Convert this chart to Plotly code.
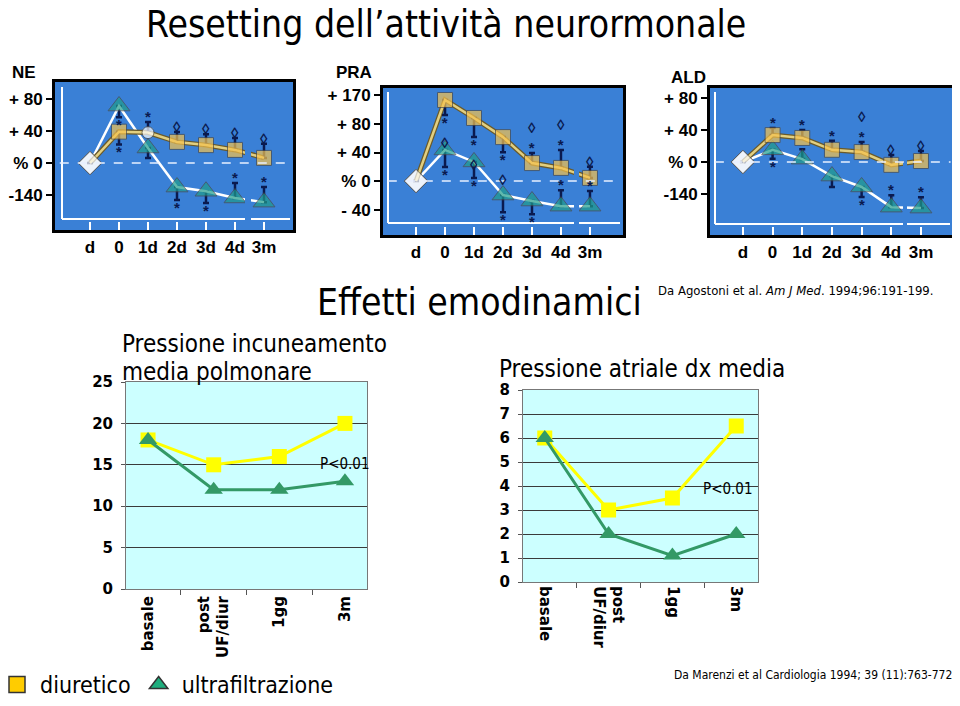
import plotly.graph_objects as go

# page body keeps the browser's default 8 px margin: the figure is placed at (8, 8)
OFF = 8
W, H = 960 - OFF, 706 - OFF


def px(x):
    return (x - OFF) / W


def py(y):
    return 1 - (y - OFF) / H


# ---------------- data : top panels (visual units of each panel axis) -------------
time_labels = ["d", "0", "1d", "2d", "3d", "4d", "3m"]
time_idx = [0, 1, 2, 3, 4, 5, 6]

ne_diur = [0, 0.98, 0.95, 0.66, 0.56, 0.41, 0.16]
ne_diur_up = [0, 0, 0.33, 0.31, 0.34, 0.37, 0.44]
ne_diur_dn = [0, 0.40, 0, 0, 0, 0, 0]
ne_diur_sig = ["", "*", "*", "◊", "◊", "◊", "◊"]
ne_ultra = [0, 1.78, 0.47, -0.75, -0.88, -1.09, -1.22]
ne_ultra_up = [0, 0, 0, 0, 0, 0.47, 0.47]
ne_ultra_dn = [0, 0.35, 0.31, 0.40, 0.37, 0, 0]
ne_ultra_sig = ["", "*", "", "*", "*", "*", "*"]
ne_ticks = [2, 1, 0, -1]
ne_ticktext = ["+ 80", "+ 40", "% 0", "-140"]

pra_diur = [0, 2.84, 2.21, 1.54, 0.63, 0.46, 0.11]
pra_diur_up = [0, 0, 0, 0, 0.35, 0.63, 0.39]
pra_diur_dn = [0, 0.53, 0.67, 0.53, 0, 0, 0]
pra_diur_sig = ["", "*◊", "*◊", "*◊", "*◊", "*◊", "◊"]
pra_ultra = [0, 1.09, 0.67, -0.49, -0.70, -0.88, -0.88]
pra_ultra_up = [0, 0, 0, 0, 0, 0.56, 0.53]
pra_ultra_dn = [0, 0.60, 0.56, 0.60, 0.46, 0, 0]
pra_ultra_sig = ["", "*", "*", "*", "*", "*", "*"]
pra_ticks = [3, 2, 1, 0, -1]
pra_ticktext = ["+ 170", "+ 80", "+ 40", "% 0", "- 40"]

ald_diur = [0, 0.84, 0.75, 0.38, 0.31, -0.09, 0.03]
ald_diur_up = [0, 0.22, 0.25, 0.28, 0.31, 0.31, 0.31]
ald_diur_dn = [0, 0, 0, 0, 0, 0, 0]
ald_diur_sig = ["", "*", "*", "*", "*◊", "◊", "◊"]
ald_ultra = [0, 0.38, 0.09, -0.44, -0.78, -1.41, -1.44]
ald_ultra_up = [0, 0, 0.31, 0, 0, 0.37, 0.34]
ald_ultra_dn = [0, 0.28, 0, 0.34, 0.31, 0, 0]
ald_ultra_sig = ["", "*", "", "", "*", "*", "*"]
ald_ticks = [2, 1, 0, -1]
ald_ticktext = ["+ 80", "+ 40", "% 0", "-140"]

# ---------------- data : bottom panels ----------------
categories = ["basale", "post<br>UF/diur", "1gg", "3m"]
pcwp_diur = [18, 15, 16, 20]
pcwp_ultra = [18, 12, 12, 13]
rap_diur = [6, 3, 3.5, 6.5]
rap_ultra = [6, 2, 1.1, 2]

# ---------------- styles ----------------
BLUE = "#3a80d6"
NAVY = "#0a1a4f"
SQ = "#f6c34e"
TRI = "#1f9c8b"
SQ_LINE = "#e2cf80"
COND = "DejaVu Sans Condensed, Liberation Sans Narrow, Arial Narrow, sans-serif"
BOLD = "Liberation Sans, Arial, sans-serif"
VERD = "DejaVu Sans, Verdana, sans-serif"

fig = go.Figure()

panels = [
    dict(title="NE", xd=(55, 293), yd=(82, 230), xr=[-1.207, 7.0], yr=[-2.09, 2.53],
         ticks=ne_ticks, ticktext=ne_ticktext,
         diur=(ne_diur, ne_diur_up, ne_diur_dn, ne_diur_sig),
         ultra=(ne_ultra, ne_ultra_up, ne_ultra_dn, ne_ultra_sig),
         circle1=True, title_xy=(24, 72),
         vline=(62, 87, 219), hline=219, gap=(245, 251), right=290),
    dict(title="PRA", xd=(383, 623), yd=(88, 235), xr=[-1.14, 7.14], yr=[-1.89, 3.26],
         ticks=pra_ticks, ticktext=pra_ticktext,
         diur=(pra_diur, pra_diur_up, pra_diur_dn, pra_diur_sig),
         ultra=(pra_ultra, pra_ultra_up, pra_ultra_dn, pra_ultra_sig),
         circle1=False, title_xy=(354, 72),
         vline=(388, 92, 223), hline=223, gap=(574, 579), right=620),
    dict(title="ALD", xd=(710, 953), yd=(88, 235), xr=[-1.11, 7.08], yr=[-2.28, 2.31],
         ticks=ald_ticks, ticktext=ald_ticktext,
         diur=(ald_diur, ald_diur_up, ald_diur_dn, ald_diur_sig),
         ultra=(ald_ultra, ald_ultra_up, ald_ultra_dn, ald_ultra_sig),
         circle1=False, title_xy=(688, 77),
         vline=(715, 92, 224), hline=224, gap=(903, 907), right=950),
]

annotations = []
shapes = []

for i, p in enumerate(panels):
    n = i + 1
    xa = "x" if n == 1 else f"x{n}"
    ya = "y" if n == 1 else f"y{n}"
    axkey = "xaxis" if n == 1 else f"xaxis{n}"
    aykey = "yaxis" if n == 1 else f"yaxis{n}"
    fig.layout[axkey] = dict(
        domain=[px(p["xd"][0]), px(p["xd"][1])], range=p["xr"], anchor=ya,
        tickvals=time_idx, ticktext=time_labels, ticks="inside", ticklen=8, tickwidth=2,
        tickcolor="white", showline=True, mirror=True, linecolor="black", linewidth=3,
        showgrid=False, zeroline=False, ticklabelstandoff=0,
        tickfont=dict(family=BOLD, size=17, color="black", weight="bold"),
    )
    fig.layout[aykey] = dict(
        domain=[py(p["yd"][1]), py(p["yd"][0])], range=p["yr"], anchor=xa,
        tickvals=p["ticks"], ticktext=p["ticktext"], ticks="outside", ticklen=6, tickwidth=1.5,
        tickcolor="black", showline=True, mirror=True, linecolor="black", linewidth=3,
        showgrid=False, zeroline=False,
        tickfont=dict(family=BOLD, size=17, color="black", weight="bold"),
    )
    # panel background
    shapes.append(dict(type="rect", xref=f"{xa} domain", yref=f"{ya} domain", x0=0, x1=1, y0=0, y1=1,
                       fillcolor=BLUE, line=dict(width=0), layer="below"))
    # inner white frame lines with axis break
    vx, vy0, vy1 = p["vline"]
    shapes.append(dict(type="line", xref="paper", yref="paper", x0=px(vx), x1=px(vx), y0=py(vy0), y1=py(vy1),
                       line=dict(color="white", width=2), layer="below"))
    shapes.append(dict(type="line", xref="paper", yref="paper", x0=px(vx), x1=px(p["gap"][0]),
                       y0=py(p["hline"]), y1=py(p["hline"]), line=dict(color="white", width=2), layer="below"))
    shapes.append(dict(type="line", xref="paper", yref="paper", x0=px(p["gap"][1]), x1=px(p["right"]),
                       y0=py(p["hline"]), y1=py(p["hline"]), line=dict(color="white", width=2), layer="below"))

    # series
    for key, color, sym, lcol, size in [("ultra", TRI, "triangle-up", "white", 19), ("diur", SQ, "square", SQ_LINE, 15)]:
        vals, up, dn, sig = p[key]
        symbols = ["diamond"] + [sym] * 6
        colors = ["white"] + [color] * 6
        sizes = [18] + [size] * 6
        if key == "diur" and p["circle1"]:
            symbols[2] = "circle"
            colors[2] = "white"
            sizes[2] = 12
        if key == "diur":
            fig.add_trace(go.Scatter(
                x=time_idx, y=vals, mode="lines", xaxis=xa, yaxis=ya, showlegend=False,
                line=dict(color="#6a5a2a", width=5), hoverinfo="skip"))
        fig.add_trace(go.Scatter(
            x=time_idx, y=vals, mode="lines+markers", xaxis=xa, yaxis=ya, showlegend=False,
            line=dict(color=lcol, width=2.5),
            marker=dict(symbol=symbols, color=colors, size=sizes,
                        line=dict(color="#4a4a4a", width=1)),
            error_y=dict(type="data", symmetric=False, array=up, arrayminus=dn,
                         color=NAVY, thickness=2.5, width=3),
        ))
        for j, s in enumerate(sig):
            if not s:
                continue
            chars = list(s)
            if up[j] > 0:
                txt = "<br>".join(reversed(chars))
                annotations.append(dict(x=time_idx[j], y=vals[j] + up[j], xref=xa, yref=ya, text=txt,
                                        showarrow=False, xanchor="center", yanchor="bottom", yshift=-5,
                                        font=dict(family=BOLD, size=15, color=NAVY, weight="bold")))
            else:
                txt = "<br>".join(chars)
                annotations.append(dict(x=time_idx[j], y=vals[j] - dn[j], xref=xa, yref=ya, text=txt,
                                        showarrow=False, xanchor="center", yanchor="top", yshift=3,
                                        font=dict(family=BOLD, size=15, color=NAVY, weight="bold")))
    # axis break gap (hides lines across the break)
    shapes.append(dict(type="rect", xref="paper", yref=f"{ya} domain", x0=px(p["gap"][0]), x1=px(p["gap"][1]),
                       y0=0.04, y1=0.96, fillcolor=BLUE, line=dict(width=0), layer="above"))
    # dashed zero line
    shapes.append(dict(type="line", xref=f"{xa} domain", yref=ya, x0=0.02, x1=0.99, y0=0, y1=0,
                       line=dict(color="#e8f0ff", width=1.5, dash="dash"), layer="above"))
    annotations.append(dict(x=px(p["title_xy"][0]), y=py(p["title_xy"][1]), xref="paper", yref="paper",
                            text=p["title"], showarrow=False, xanchor="center", yanchor="middle",
                            font=dict(family=BOLD, size=17, color="black", weight="bold")))

# ---------------- bottom panels ----------------
bottoms = [
    dict(xd=(126, 367), yd=(382, 589), yr=[0, 25], dtick=5, diur=pcwp_diur, ultra=pcwp_ultra, angle=-90),
    dict(xd=(523, 758), yd=(390, 582), yr=[0, 8], dtick=1, diur=rap_diur, ultra=rap_ultra, angle=90),
]
for k, b in enumerate(bottoms):
    n = 4 + k
    xa, ya = f"x{n}", f"y{n}"
    fig.layout[f"xaxis{n}"] = dict(
        domain=[px(b["xd"][0]), px(b["xd"][1])], anchor=ya, type="category",
        ticks="outside", tickson="boundaries", ticklen=5, tickcolor="#555", showline=True, mirror=True,
        linecolor="#777", linewidth=1, showgrid=False, tickangle=b["angle"],
        tickfont=dict(family=VERD, size=15, color="black", weight="bold"),
    )
    fig.layout[f"yaxis{n}"] = dict(
        domain=[py(b["yd"][1]), py(b["yd"][0])], anchor=xa, range=b["yr"], dtick=b["dtick"],
        ticks="outside", ticklen=4, tickcolor="#555", showline=True, mirror=True, linecolor="#777",
        linewidth=1, showgrid=True, gridcolor="#3a3a3a", gridwidth=1, zeroline=False,
        ticklabelstandoff=5,
        tickfont=dict(family=VERD, size=15, color="black", weight="bold"),
    )
    shapes.append(dict(type="rect", xref=f"{xa} domain", yref=f"{ya} domain", x0=0, x1=1, y0=0, y1=1,
                       fillcolor="#ccffff", line=dict(width=0), layer="below"))
    fig.add_trace(go.Scatter(x=categories, y=b["diur"], mode="lines+markers", xaxis=xa, yaxis=ya,
                             showlegend=False, line=dict(color="#ffff00", width=3),
                             marker=dict(symbol="square", color="#ffff00", size=15)))
    fig.add_trace(go.Scatter(x=categories, y=b["ultra"], mode="lines+markers", xaxis=xa, yaxis=ya,
                             showlegend=False, line=dict(color="#339966", width=3),
                             marker=dict(symbol="triangle-up", color="#339966", size=16)))

# legend-only traces
fig.add_trace(go.Scatter(x=[None], y=[None], mode="markers", name="diuretico", xaxis="x4", yaxis="y4",
                         marker=dict(symbol="square", color="#ffcc00", size=16, line=dict(color="#333", width=1.5))))
fig.add_trace(go.Scatter(x=[None], y=[None], mode="markers", name="ultrafiltrazione", xaxis="x4", yaxis="y4",
                         marker=dict(symbol="triangle-up", color="#1fae7e", size=20, line=dict(color="#333", width=1.5))))


# ---------------- texts ----------------
def text(x, y, t, size, family=COND, anchor="center"):
    annotations.append(dict(x=px(x), y=py(y), xref="paper", yref="paper", text=t, showarrow=False,
                            xanchor=anchor, yanchor="middle",
                            font=dict(family=family, size=size, color="black")))


text(446, 25, "Resetting dell’attività neurormonale", 37)
text(479, 303, "Effetti emodinamici", 37)
text(120, 344, "Pressione incuneamento", 24, anchor="left")
text(120, 372, "media polmonare", 24, anchor="left")
text(497, 369, "Pressione atriale dx media", 24, anchor="left")
text(656, 290, "Da Agostoni et al. <i>Am J Med</i>. 1994;96:191-199.", 13, anchor="left")
text(672, 675, "Da Marenzi et al Cardiologia 1994; 39 (11):763-772.", 12, anchor="left")
text(318, 464, "P<0.01", 15, anchor="left")
text(701, 489, "P<0.01", 15, anchor="left")

fig.update_layout(
    width=W, height=H, margin=dict(l=0, r=0, t=0, b=0, autoexpand=False),
    paper_bgcolor="white", plot_bgcolor="rgba(0,0,0,0)",
    shapes=shapes, annotations=annotations,
    legend=dict(orientation="h", x=px(-6), y=0.0, xanchor="left", yanchor="bottom",
                font=dict(family=COND, size=23, color="black"), itemwidth=36,
                bgcolor="rgba(0,0,0,0)", tracegroupgap=0),
)

fig.write_html("out.html")
